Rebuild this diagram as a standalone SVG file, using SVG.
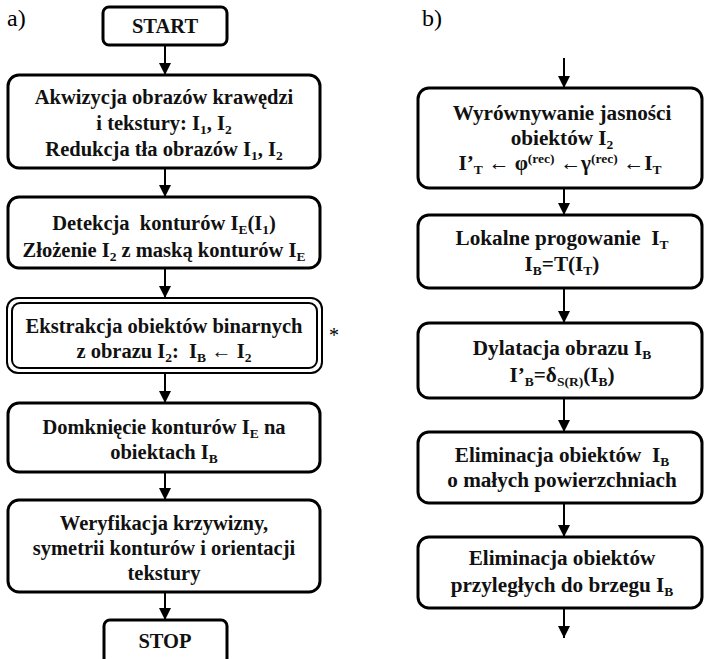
<svg xmlns="http://www.w3.org/2000/svg" width="704" height="659" viewBox="0 0 704 659">
<defs>
<style>
.box{fill:#fff;stroke:#000;stroke-width:3}
.dbl{fill:#fff;stroke:#000;stroke-width:2}
.t{font-family:'Liberation Serif','DejaVu Serif','Noto Serif',serif;font-weight:bold;font-size:20.5px;text-anchor:middle;fill:#111}
.r{font-size:21.2px}
.s{font-size:13.5px}
.lab{font-family:'Liberation Serif','DejaVu Serif',serif;font-size:24px;fill:#000}
.ast{font-family:'Liberation Serif','DejaVu Serif',serif;font-size:20px;text-anchor:middle}
.conn line{stroke:#000;stroke-width:2}
</style>
<marker id="ah" viewBox="0 0 10 10" refX="10" refY="5" markerWidth="12" markerHeight="12" markerUnits="userSpaceOnUse" orient="auto">
<path d="M0,0 L10,5 L0,10 z" fill="#000"/>
</marker>
</defs>
<rect width="704" height="659" fill="#fff"/>
<text class="lab" x="7" y="26">a)</text>
<text class="lab" x="422" y="26">b)</text>

<g class="conn">
<line x1="165" y1="45" x2="165" y2="75" marker-end="url(#ah)"/>
<line x1="165" y1="168" x2="165" y2="197" marker-end="url(#ah)"/>
<line x1="165" y1="268" x2="165" y2="298" marker-end="url(#ah)"/>
<line x1="165" y1="373" x2="165" y2="403" marker-end="url(#ah)"/>
<line x1="165" y1="472" x2="165" y2="500" marker-end="url(#ah)"/>
<line x1="165" y1="592" x2="165" y2="620" marker-end="url(#ah)"/>
<line x1="564" y1="58" x2="564" y2="88" marker-end="url(#ah)"/>
<line x1="564" y1="188" x2="564" y2="215" marker-end="url(#ah)"/>
<line x1="564" y1="288" x2="564" y2="323" marker-end="url(#ah)"/>
<line x1="564" y1="398" x2="564" y2="432" marker-end="url(#ah)"/>
<line x1="564" y1="503" x2="564" y2="537" marker-end="url(#ah)"/>
<line x1="564" y1="608" x2="564" y2="638" marker-end="url(#ah)"/>
</g>

<g id="start">
<rect class="box" x="103" y="7" width="124" height="38" rx="6"/>
<text class="t" x="165" y="33">START</text>
</g>

<g id="a1">
<rect class="box" x="8" y="75" width="312" height="93" rx="11"/>
<text class="t" x="164" y="104">Akwizycja obrazów krawędzi</text>
<text class="t" x="164" y="130">i tekstury: I<tspan class="s" dy="4">1</tspan><tspan dy="-4">, I</tspan><tspan class="s" dy="4">2</tspan></text>
<text class="t" x="164" y="156">Redukcja tła obrazów I<tspan class="s" dy="4">1</tspan><tspan dy="-4">, I</tspan><tspan class="s" dy="4">2</tspan></text>
</g>

<g id="a2">
<rect class="box" x="8" y="197" width="312" height="71" rx="11"/>
<text class="t" x="164" y="230">Detekcja&#160; konturów I<tspan class="s" dy="4">E</tspan><tspan dy="-4">(I</tspan><tspan class="s" dy="4">1</tspan><tspan dy="-4">)</tspan></text>
<text class="t" x="164" y="257">Złożenie I<tspan class="s" dy="4">2</tspan><tspan dy="-4"> z maską konturów I</tspan><tspan class="s" dy="4">E</tspan></text>
</g>

<g id="a3">
<rect class="dbl" x="7" y="298" width="315" height="75" rx="11"/>
<rect class="dbl" x="12" y="303" width="305" height="65" rx="8"/>
<text class="t" x="164" y="333">Ekstrakcja obiektów binarnych</text>
<text class="t" x="164" y="358">z obrazu I<tspan class="s" dy="4">2</tspan><tspan dy="-4">:&#160; I</tspan><tspan class="s" dy="4">B</tspan><tspan dy="-4"> ← I</tspan><tspan class="s" dy="4">2</tspan></text>
<text class="ast" x="334" y="342">*</text>
</g>

<g id="a4">
<rect class="box" x="8" y="403" width="312" height="69" rx="11"/>
<text class="t" x="164" y="434">Domknięcie konturów I<tspan class="s" dy="4">E</tspan><tspan dy="-4"> na</tspan></text>
<text class="t" x="164" y="459">obiektach I<tspan class="s" dy="4">B</tspan></text>
</g>

<g id="a5">
<rect class="box" x="8" y="500" width="312" height="92" rx="11"/>
<text class="t" x="164" y="530">Weryfikacja krzywizny,</text>
<text class="t" x="164" y="555">symetrii konturów i orientacji</text>
<text class="t" x="164" y="580">tekstury</text>
</g>

<g id="stop">
<rect class="box" x="104" y="620" width="123" height="44" rx="6"/>
<text class="t" x="165" y="648">STOP</text>
</g>

<g id="b1">
<rect class="box" x="418" y="88" width="284" height="100" rx="11"/>
<text class="t r" x="562" y="120">Wyrównywanie jasności</text>
<text class="t r" x="562" y="145">obiektów I<tspan class="s" dy="4">2</tspan></text>
<text class="t r" x="560" y="170">I’<tspan class="s" dy="4">T</tspan><tspan dy="-4"> ← φ</tspan><tspan class="s" dy="-7">(rec)</tspan><tspan dy="7"> ←γ</tspan><tspan class="s" dy="-7">(rec)</tspan><tspan dy="7"> ←I</tspan><tspan class="s" dy="4">T</tspan></text>
</g>

<g id="b2">
<rect class="box" x="418" y="215" width="284" height="73" rx="11"/>
<text class="t r" x="562" y="245">Lokalne progowanie&#160; I<tspan class="s" dy="4">T</tspan></text>
<text class="t r" x="562" y="271">I<tspan class="s" dy="4">B</tspan><tspan dy="-4">=T(I</tspan><tspan class="s" dy="4">T</tspan><tspan dy="-4">)</tspan></text>
</g>

<g id="b3">
<rect class="box" x="418" y="323" width="284" height="75" rx="11"/>
<text class="t r" x="562" y="355">Dylatacja obrazu I<tspan class="s" dy="4">B</tspan></text>
<text class="t r" x="562" y="382">I’<tspan class="s" dy="4">B</tspan><tspan dy="-4">=δ</tspan><tspan class="s" dy="4">S(R)</tspan><tspan dy="-4">(I</tspan><tspan class="s" dy="4">B</tspan><tspan dy="-4">)</tspan></text>
</g>

<g id="b4">
<rect class="box" x="418" y="432" width="284" height="71" rx="11"/>
<text class="t r" x="562" y="462">Eliminacja obiektów&#160; I<tspan class="s" dy="4">B</tspan></text>
<text class="t r" x="562" y="487">o małych powierzchniach</text>
</g>

<g id="b5">
<rect class="box" x="418" y="537" width="284" height="71" rx="11"/>
<text class="t r" x="562" y="565">Eliminacja obiektów</text>
<text class="t r" x="562" y="592">przyległych do brzegu I<tspan class="s" dy="4">B</tspan></text>
</g>
</svg>
